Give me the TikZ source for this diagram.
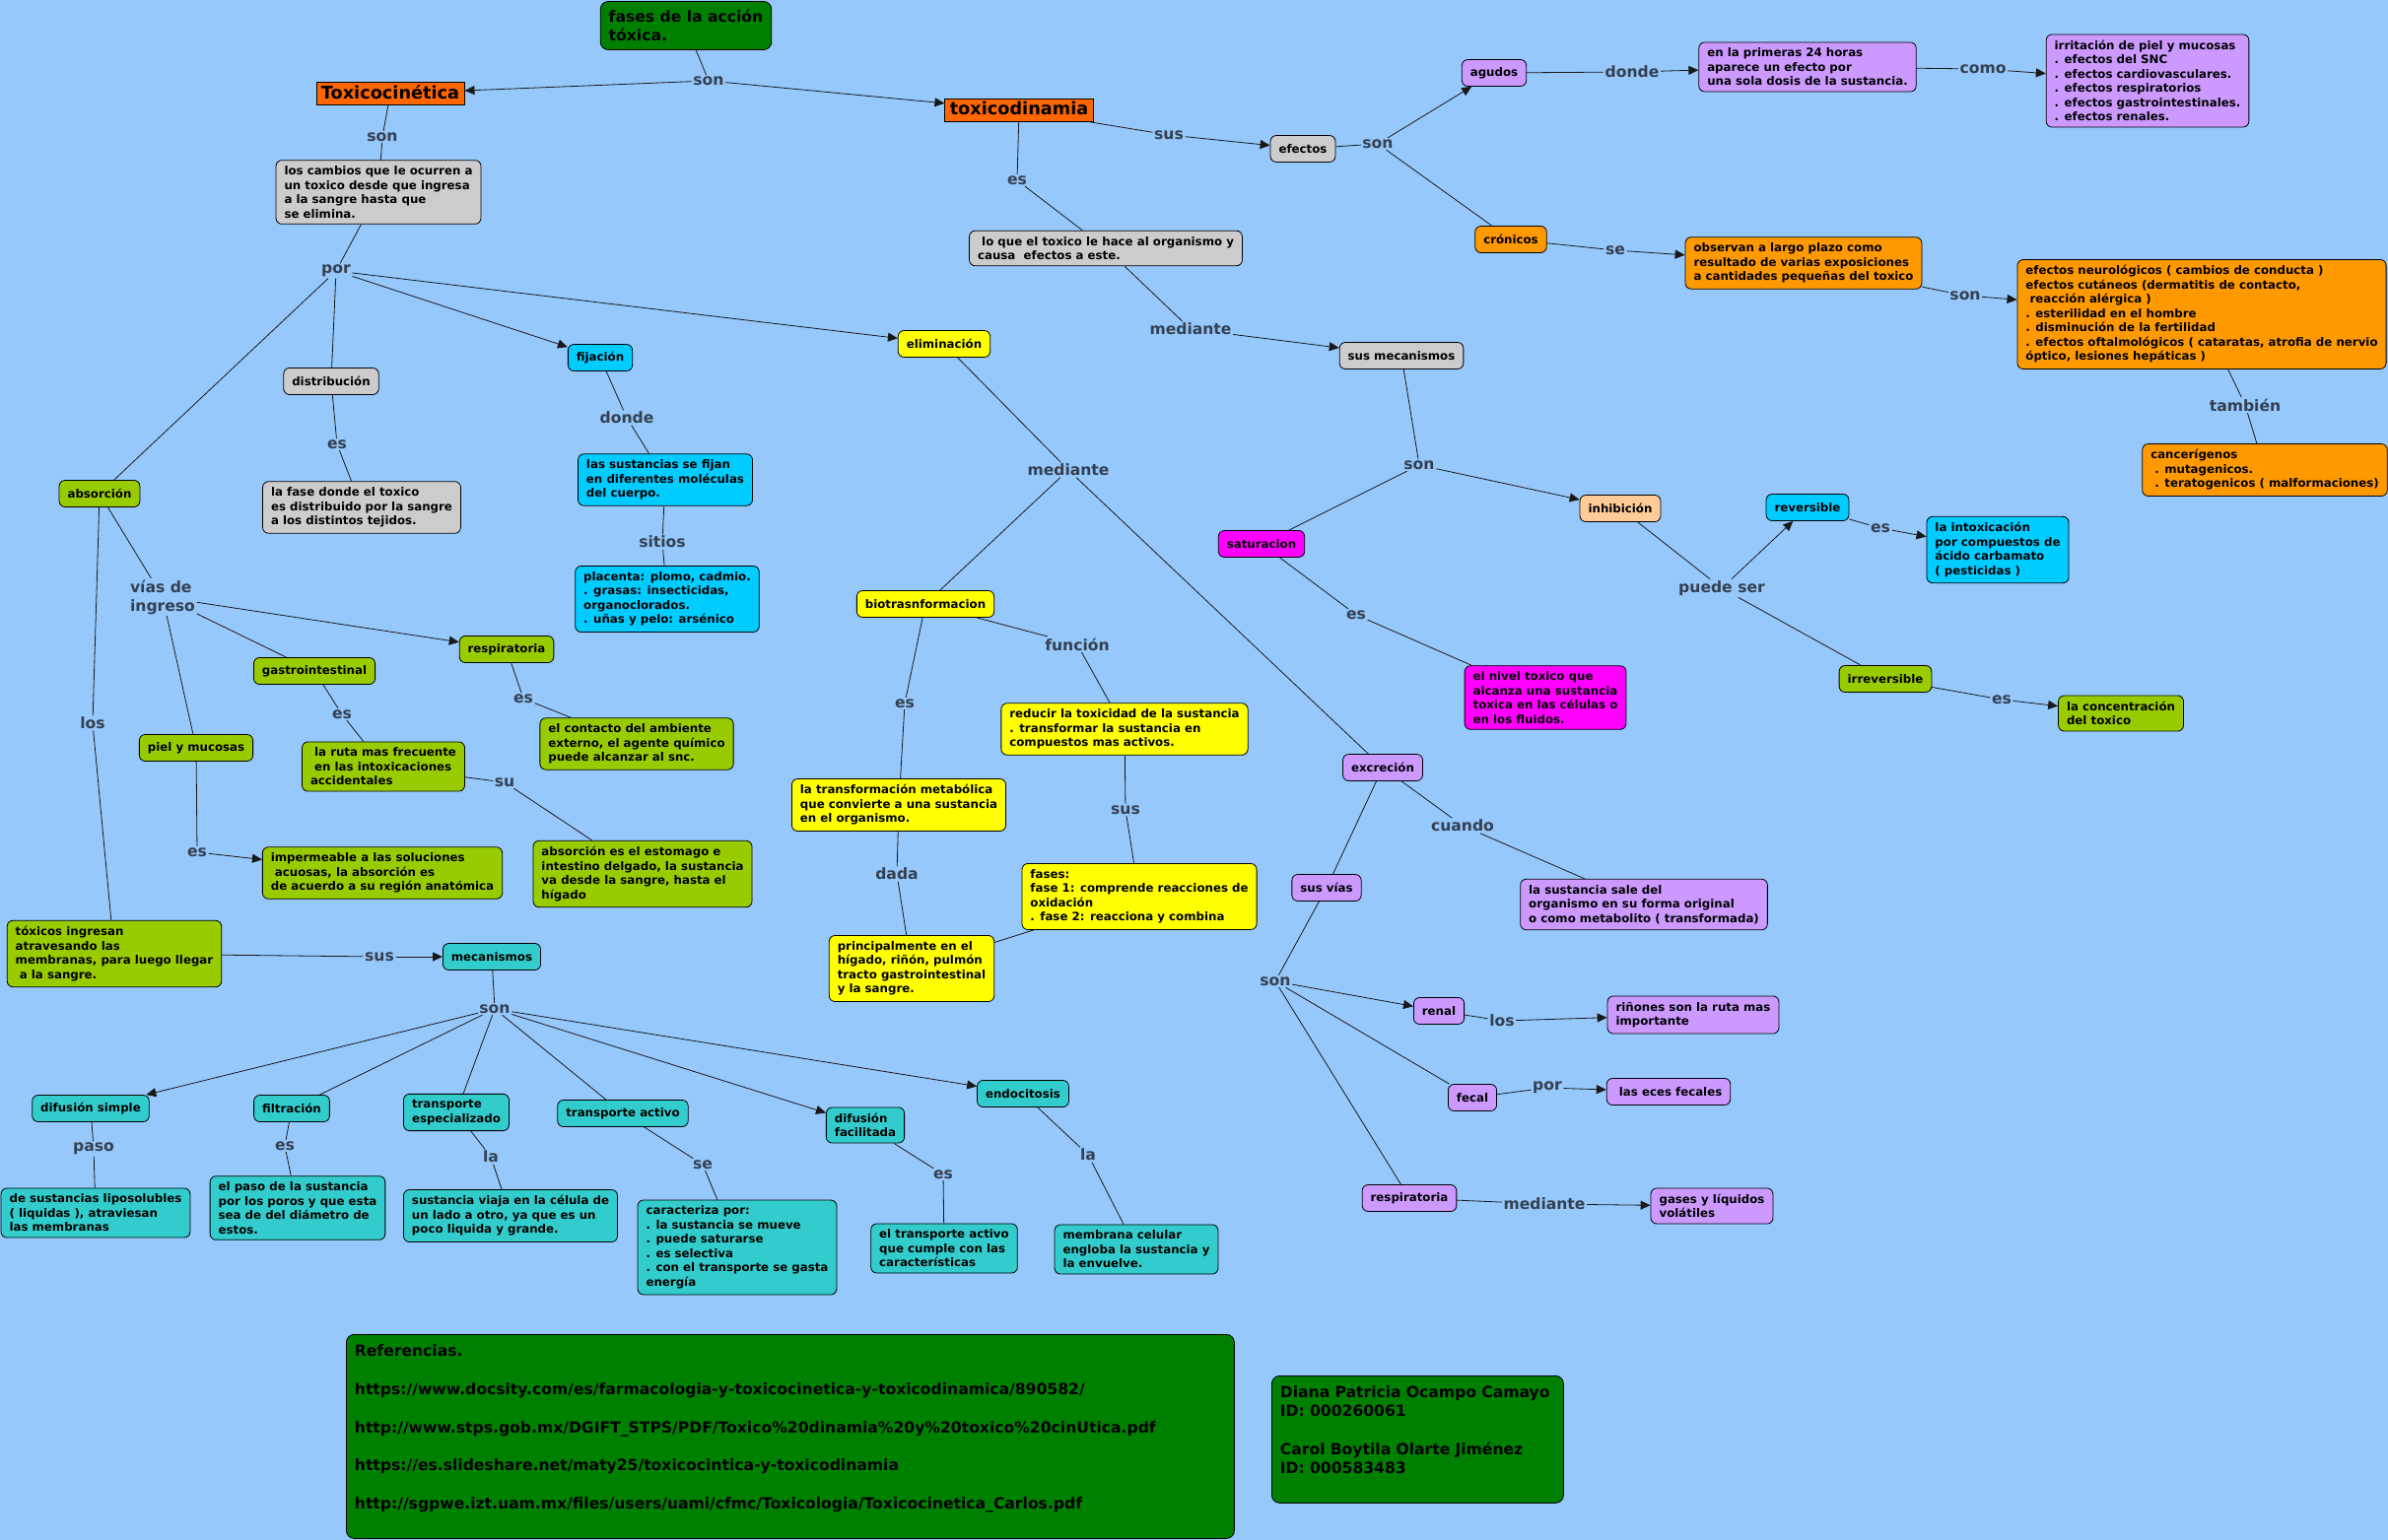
\documentclass[tikz,border=0pt]{standalone}
\usepackage{fontspec}
\setmainfont{DejaVu Sans}
\usepackage{xcolor}
\usetikzlibrary{arrows.meta}
\definecolor{mapbg}{RGB}{150,200,252}
\definecolor{linkgray}{RGB}{52,64,80}
\definecolor{fillgray}{RGB}{204,204,204}
\definecolor{fillgreen}{RGB}{153,204,0}
\definecolor{fillblue}{RGB}{0,204,255}
\definecolor{fillyellow}{RGB}{255,255,0}
\definecolor{fillviolet}{RGB}{204,153,255}
\definecolor{fillorange}{RGB}{255,153,0}
\definecolor{fillpeach}{RGB}{255,204,153}
\definecolor{fillmagenta}{RGB}{255,0,255}
\definecolor{fillteal}{RGB}{51,204,204}
\definecolor{filldark}{RGB}{0,128,0}
\definecolor{toporange}{RGB}{255,102,0}
\newcommand\indsp{\hspace*{0.35em}}
\tikzset{
  concept/.style={draw=black,line width=0.8pt,rounded corners=6pt,align=left,
    font=\fontsize{11.8}{14.5}\selectfont\bfseries,inner xsep=8.5pt,inner ysep=6pt,
    minimum height=27pt},
  graybox/.style={concept,fill=fillgray},
  greenbox/.style={concept,fill=fillgreen},
  bluebox/.style={concept,fill=fillblue},
  yellowbox/.style={concept,fill=fillyellow},
  violetbox/.style={concept,fill=fillviolet},
  orangebox/.style={concept,fill=fillorange},
  peachbox/.style={concept,fill=fillpeach},
  magentabox/.style={concept,fill=fillmagenta},
  tealbox/.style={concept,fill=fillteal},
  infobox/.style={concept,fill=filldark,rounded corners=8pt,inner ysep=8.5pt,
    font=\fontsize{15.6}{19.35}\selectfont\bfseries},
  maintopic/.style={draw=black,line width=0.8pt,fill=toporange,
    font=\fontsize{17.7}{21}\selectfont\bfseries,inner xsep=5pt,inner ysep=3pt,
    text height=13.5pt,text depth=3.5pt},
  linkword/.style={font=\fontsize{15.6}{19}\selectfont\bfseries,text=linkgray,
    inner sep=1.5pt,align=left},
  maplink/.style={line width=0.8pt,draw=black!90},
  maparrow/.style={maplink,-{Triangle[length=10pt,width=9pt]}}
}
\begin{document}
\begin{tikzpicture}[x=1pt,y=-1pt]
  \fill[mapbg] (0,0) rectangle (2423,1563);
  \useasboundingbox (0,0) rectangle (2423,1563);

  \node[infobox] (fasesaccion) at (696,26) {fases de la acción\\tóxica.};
  \node[maintopic] (tcin) at (396,95) {Toxicocinética};
  \node[maintopic] (tdin) at (1034,112) {toxicodinamia};
  \node[linkword] (sonA) at (719,82) {son};

  % toxicocinetica
  \node[linkword] (sonB) at (388,139) {son};
  \node[graybox] (cambios) at (384,195) {los cambios que le ocurren a\\un toxico desde que ingresa\\a la sangre hasta que\\se elimina.};
  \node[linkword] (porA) at (341,275) {por};
  \node[graybox] (distrib) at (336,387) {distribución};
  \node[linkword] (esA) at (342,451) {es};
  \node[graybox] (fasedist) at (367,515) {la fase donde el toxico\\es distribuido por la sangre\\a los distintos tejidos.};
  \node[greenbox] (absor) at (101,501) {absorción};
  \node[bluebox] (fijac) at (609,363) {fijación};
  \node[yellowbox] (elimin) at (958,349) {eliminación};
  \node[linkword] (dondeA) at (636,424) {donde};
  \node[bluebox] (fijan) at (675,487) {las sustancias se fijan\\en diferentes moléculas\\del cuerpo.};
  \node[linkword] (sitios) at (672,550) {sitios};
  \node[bluebox] (placenta) at (677,608) {placenta: plomo, cadmio.\\. grasas: insecticidas,\\organoclorados.\\. uñas y pelo: arsénico};

  \node[linkword] (vias) at (165,606) {vías de\\ingreso};
  \node[linkword] (losA) at (94,734) {los};
  \node[greenbox] (respg) at (514,659) {respiratoria};
  \node[greenbox] (gastro) at (319,681) {gastrointestinal};
  \node[linkword] (esGas) at (347,725) {es};
  \node[linkword] (esRes) at (531,709) {es};
  \node[greenbox] (contacto) at (646,755) {el contacto del ambiente\\externo, el agente químico\\puede alcanzar al snc.};
  \node[greenbox] (piel) at (199,759) {piel y mucosas};
  \node[greenbox] (ruta) at (389,778) {\indsp la ruta mas frecuente\\\indsp en las intoxicaciones\\accidentales};
  \node[linkword] (su) at (512,794) {su};
  \node[greenbox] (estomago) at (652,887) {absorción es el estomago e\\intestino delgado, la sustancia\\va desde la sangre, hasta el\\hígado};
  \node[linkword] (esPiel) at (200,865) {es};
  \node[greenbox] (imperm) at (388,886) {impermeable a las soluciones\\\indsp acuosas, la absorción es\\de acuerdo a su región anatómica};
  \node[greenbox] (ingresan) at (116,968) {tóxicos ingresan\\atravesando las\\membranas, para luego llegar\\\indsp a la sangre.};
  \node[linkword] (susC) at (385,971) {sus};
  \node[tealbox] (mecan) at (499,971) {mecanismos};
  \node[linkword] (sonG) at (502,1024) {son};

  \node[tealbox] (difs) at (92,1125) {difusión simple};
  \node[linkword] (paso) at (95,1166) {paso};
  \node[tealbox] (liposol) at (97,1231) {de sustancias liposolubles\\( liquidas ), atraviesan\\las membranas};
  \node[tealbox] (filtr) at (296,1125) {filtración};
  \node[linkword] (esFil) at (289,1163) {es};
  \node[tealbox] (poros) at (302,1226) {el paso de la sustancia\\por los poros y que esta\\sea de del diámetro de\\estos.};
  \node[tealbox] (tesp) at (463,1129) {transporte\\especializado};
  \node[linkword] (laA) at (498,1174) {la};
  \node[tealbox] (viaja) at (518,1234) {sustancia viaja en la célula de\\un lado a otro, ya que es un\\poco liquida y grande.};
  \node[tealbox] (tact) at (632,1130) {transporte activo};
  \node[linkword] (seB) at (713,1182) {se};
  \node[tealbox] (caract) at (748,1266) {caracteriza por:\\. la sustancia se mueve\\. puede saturarse\\. es selectiva\\. con el transporte se gasta\\energía};
  \node[tealbox] (diff) at (878,1142) {difusión\\facilitada};
  \node[linkword] (esDif) at (957,1192) {es};
  \node[tealbox] (cumple) at (958,1267) {el transporte activo\\que cumple con las\\características};
  \node[tealbox] (endoc) at (1038,1110) {endocitosis};
  \node[linkword] (laB) at (1104,1172) {la};
  \node[tealbox] (membr) at (1153,1268) {membrana celular\\engloba la sustancia y\\la envuelve.};

  % eliminacion
  \node[linkword] (medB) at (1084,477) {mediante};
  \node[yellowbox] (biotr) at (939,613) {biotrasnformacion};
  \node[linkword] (funcion) at (1093,654) {función};
  \node[yellowbox] (reducir) at (1141,740) {reducir la toxicidad de la sustancia\\. transformar la sustancia en\\compuestos mas activos.};
  \node[linkword] (esBio) at (918,714) {es};
  \node[yellowbox] (transf) at (912,817) {la transformación metabólica\\que convierte a una sustancia\\en el organismo.};
  \node[linkword] (susB) at (1142,822) {sus};
  \node[yellowbox] (fasesbio) at (1156,910) {fases:\\fase 1: comprende reacciones de\\oxidación\\. fase 2: reacciona y combina};
  \node[linkword] (dada) at (910,887) {dada};
  \node[yellowbox] (princ) at (925,983) {principalmente en el\\hígado, riñón, pulmón\\tracto gastrointestinal\\y la sangre.};
  \node[violetbox] (excre) at (1403,779) {excreción};
  \node[linkword] (cuando) at (1484,838) {cuando};
  \node[violetbox] (sale) at (1668,918) {la sustancia sale del\\organismo en su forma original\\o como metabolito ( transformada)};
  \node[violetbox] (susvias) at (1346,901) {sus vías};
  \node[linkword] (sonF) at (1294,996) {son};
  \node[violetbox] (renal) at (1460,1026) {renal};
  \node[linkword] (losB) at (1524,1036) {los};
  \node[violetbox] (rinones) at (1718,1030) {riñones son la ruta mas\\importante};
  \node[violetbox] (fecal) at (1494,1114) {fecal};
  \node[linkword] (porB) at (1570,1104) {por};
  \node[violetbox] (eces) at (1693,1108) {\indsp las eces fecales};
  \node[violetbox] (respv) at (1430,1216) {respiratoria};
  \node[linkword] (medC) at (1567,1222) {mediante};
  \node[violetbox] (gases) at (1737,1224) {gases y líquidos\\volátiles};

  % toxicodinamia
  \node[linkword] (esTdin) at (1032,183) {es};
  \node[graybox] (loque) at (1122,252) {\indsp lo que el toxico le hace al organismo y\\causa\ \ efectos a este.};
  \node[linkword] (susA) at (1186,137) {sus};
  \node[graybox] (efectos) at (1322,151) {efectos};
  \node[linkword] (sonC) at (1398,146) {son};
  \node[violetbox] (agudos) at (1516,74) {agudos};
  \node[linkword] (dondeB) at (1656,73) {donde};
  \node[violetbox] (primeras) at (1834,68) {en la primeras 24 horas\\aparece un efecto por\\una sola dosis de la sustancia.};
  \node[linkword] (como) at (2012,70) {como};
  \node[violetbox] (irrit) at (2179,82) {irritación de piel y mucosas\\. efectos del SNC\\. efectos cardiovasculares.\\. efectos respiratorios\\. efectos gastrointestinales.\\. efectos renales.};
  \node[orangebox] (cronic) at (1533,243) {crónicos};
  \node[linkword] (seA) at (1639,254) {se};
  \node[orangebox] (observan) at (1830,267) {observan a largo plazo como\\resultado de varias exposiciones\\a cantidades pequeñas del toxico};
  \node[linkword] (sonD) at (1994,300) {son};
  \node[orangebox] (neuro) at (2234,319) {efectos neurológicos ( cambios de conducta )\\efectos cutáneos (dermatitis de contacto,\\\indsp reacción alérgica )\\. esterilidad en el hombre\\. disminución de la fertilidad\\. efectos oftalmológicos ( cataratas, atrofia de nervio\\óptico, lesiones hepáticas )};
  \node[linkword] (tambien) at (2278,411) {también};
  \node[orangebox] (cancer) at (2298,477) {cancerígenos\\\indsp. mutagenicos.\\\indsp. teratogenicos ( malformaciones)};
  \node[linkword] (medA) at (1208,334) {mediante};
  \node[graybox] (susmec) at (1422,361) {sus mecanismos};
  \node[linkword] (sonE) at (1440,472) {son};
  \node[magentabox] (satur) at (1280,552) {saturacion};
  \node[peachbox] (inhib) at (1644,516) {inhibición};
  \node[linkword] (puede) at (1747,597) {puede ser};
  \node[bluebox] (rever) at (1834,515) {reversible};
  \node[linkword] (esRev) at (1908,536) {es};
  \node[bluebox] (intox) at (2027,558) {la intoxicación\\por compuestos de\\ácido carbamato\\( pesticidas )};
  \node[greenbox] (irrever) at (1913,689) {irreversible};
  \node[linkword] (esIrr) at (2031,710) {es};
  \node[greenbox] (concen) at (2152,724) {la concentración\\del toxico};
  \node[linkword] (esSat) at (1376,624) {es};
  \node[magentabox] (nivel) at (1568,708) {el nivel toxico que\\alcanza una sustancia\\toxica en las células o\\en los fluidos.};

  \node[infobox,anchor=north west,text width=884pt,minimum height=207pt] (refs) at (351,1354) {Referencias.\\[19.35pt]https://www.docsity.com/es/farmacologia-y-toxicocinetica-y-toxicodinamica/890582/\\[19.35pt]http://www.stps.gob.mx/DGIFT\_STPS/PDF/Toxico\%20dinamia\%20y\%20toxico\%20cinUtica.pdf\\[19.35pt]https://es.slideshare.net/maty25/toxicocintica-y-toxicodinamia\\[19.35pt]http://sgpwe.izt.uam.mx/files/users/uami/cfmc/Toxicologia/Toxicocinetica\_Carlos.pdf\\\mbox{}};
  \node[infobox,anchor=north west,text width=279pt,minimum height=129pt] (names) at (1290,1396) {Diana Patricia Ocampo Camayo\\ID: 000260061\\[19.35pt]Carol Boytila Olarte Jiménez\\ID: 000583483\\\mbox{}};

  \foreach \a/\b in {fasesaccion/sonA, tcin/sonB, sonB/cambios, cambios/porA, porA/absor,
      porA/distrib, distrib/esA, esA/fasedist, fijac/dondeA, dondeA/fijan, fijan/sitios,
      sitios/placenta, absor/vias, vias/gastro, vias/piel, absor/losA, losA/ingresan,
      respg/esRes, esRes/contacto, gastro/esGas, esGas/ruta, ruta/su, su/estomago,
      piel/esPiel, ingresan/susC, mecan/sonG, sonG/filtr, sonG/tesp, sonG/tact,
      difs/paso, paso/liposol, filtr/esFil, esFil/poros, tesp/laA, laA/viaja,
      tact/seB, seB/caract, diff/esDif, esDif/cumple, endoc/laB, laB/membr,
      elimin/medB, medB/biotr, medB/excre, biotr/esBio, esBio/transf, biotr/funcion,
      funcion/reducir, transf/dada, dada/princ, reducir/susB, susB/fasesbio, princ/fasesbio,
      tdin/susA, tdin/esTdin, esTdin/loque, loque/medA, efectos/sonC, sonC/cronic,
      agudos/dondeB, primeras/como, cronic/seA, observan/sonD, neuro/tambien,
      tambien/cancer, susmec/sonE, sonE/satur, satur/esSat, esSat/nivel, inhib/puede,
      puede/irrever, rever/esRev, irrever/esIrr, excre/susvias, excre/cuando,
      cuando/sale, susvias/sonF, sonF/fecal, sonF/respv, renal/losB, fecal/porB,
      respv/medC}
    \draw[maplink] (\a) -- (\b);

  \foreach \a/\b in {sonA/tcin, sonA/tdin, porA/fijac, porA/elimin, vias/respg,
      esPiel/imperm, susC/mecan, sonG/difs, sonG/diff, sonG/endoc, susA/efectos,
      sonC/agudos, dondeB/primeras, como/irrit, seA/observan, sonD/neuro, medA/susmec,
      sonE/inhib, puede/rever, esRev/intox, esIrr/concen, sonF/renal, losB/rinones,
      porB/eces, medC/gases}
    \draw[maparrow] (\a) -- (\b);
\end{tikzpicture}
\end{document}
